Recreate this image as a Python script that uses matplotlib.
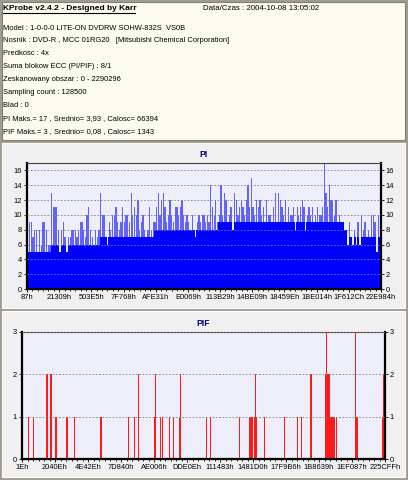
import numpy as np
import matplotlib.pyplot as plt
from matplotlib.patches import Rectangle
from matplotlib.ticker import FixedLocator

W, H = 408, 480

# header texts
header_title = "KProbe v2.4.2 - Designed by Karr"
header_date = "Data/Czas : 2004-10-08 13:05:02"
header_lines = [
    "Model : 1-0-0-0 LITE-ON DVDRW SOHW-832S  VS0B",
    "Nosnik : DVD-R , MCC 01RG20   [Mitsubishi Chemical Corporation]",
    "Predkosc : 4x",
    "Suma blokow ECC (PI/PIF) : 8/1",
    "Zeskanowany obszar : 0 - 2290296",
    "Sampling count : 128500",
    "Blad : 0",
    "PI Maks.= 17 , Srednio= 3,93 , Calosc= 66394",
    "PIF Maks.= 3 , Srednio= 0,08 , Calosc= 1343",
]

pi_xlabels = ["87h", "21309h", "503E5h", "7F768h", "AFE31h", "E0069h",
              "113B29h", "14BE09h", "18459Eh", "1BE014h", "1F612Ch", "22E984h"]
pif_xlabels = ["1Eh", "2040Eh", "4E42Eh", "7D840h", "AE006h", "DDE0Eh",
               "111483h", "1481D0h", "17F9B6h", "1B8639h", "1EF087h", "225CFFh"]

# PI peaks, read segment by segment along the disc
pi_segments = [
    [6, 9, 9, 7, 8, 8, 5, 8, 6, 9, 9, 8, 6, 6],
    [13, 11, 11, 11, 8, 5, 8, 9, 7, 5],
    [7, 7, 8, 8, 8, 7, 8, 9, 9, 8, 7, 10, 11, 8, 7, 6, 8, 7, 8],
    [13, 10, 10, 7, 6, 9, 8, 10, 10, 11, 9, 8, 9, 11],
    [9, 10, 10, 9, 13, 10, 11, 10, 12, 8, 9, 10, 8, 7, 8, 11, 8, 9],
    [9, 11, 13, 10, 12, 13, 11, 9, 10, 12, 10, 9, 11, 11, 10, 11, 12, 10, 9, 10],
    [9, 8, 10, 8, 7, 9, 10, 9, 10, 10, 9, 10, 9, 14, 11, 10, 12, 9],
    [10, 14, 10, 13, 12, 9, 10, 11, 8, 13, 12, 10, 11, 12, 11, 10, 12, 14, 11, 15, 11],
    [10, 12, 11, 12, 10, 11, 9, 12, 10, 10, 9, 11, 13, 9, 13, 12, 11, 10, 12, 9, 11, 10],
    [10, 11, 8, 11, 10, 11, 12, 11, 8, 10, 11, 10, 11, 9, 10, 11, 10, 10, 11],
    [17, 13, 11, 14, 12, 12, 10, 12, 9, 10, 9, 9, 8, 8],
    [6, 9, 7, 6, 8, 6, 9, 6, 10, 8, 9, 7, 8, 7, 10, 10, 9, 5, 10, 12],
]
# dense (dark) PI level in each segment
pi_base_levels = [5, 6, 6, 7, 7, 8, 8, 9, 9, 9, 9, 7]

# PIF: sample index and value of non-zero samples
pif_count = 363
pif_idx = [6, 11, 24, 25, 28, 29, 33, 34, 44, 45, 52, 78, 79, 106, 112, 116,
           132, 133, 138, 140, 147, 151, 157, 158, 184, 188, 217, 227, 228,
           229, 230, 232, 233, 234, 242, 262, 275, 279, 288, 289, 303, 304,
           305, 306, 307, 308, 309, 310, 311, 312, 314, 333, 334, 335, 360,
           361, 362]
pif_val = [1, 1, 2, 2, 2, 2, 1, 1, 1, 1, 1, 1, 1, 1, 1, 2,
           1, 2, 1, 1, 1, 1, 1, 2, 1, 1, 1, 1, 1,
           1, 1, 1, 2, 1, 1, 1, 1, 1, 2, 2, 2, 3,
           2, 2, 2, 1, 1, 1, 1, 1, 1, 3, 1, 1, 1,
           2, 2]

pi_peak = np.concatenate([np.array(s) for s in pi_segments])
pi_base = np.repeat(pi_base_levels, [len(s) for s in pi_segments])
pi_base = np.minimum(pi_base, pi_peak)
pif = np.zeros(pif_count)
pif[pif_idx] = pif_val

plt.rcParams['font.family'] = ['Liberation Sans', 'DejaVu Sans']

fig = plt.figure(figsize=(W / 100, H / 100), dpi=100)
fig.patch.set_facecolor('#a39a91')


def px_rect(x0, y0, x1, y1, **kw):
    fig.patches.append(Rectangle((x0 / W, 1 - y1 / H), (x1 - x0) / W, (y1 - y0) / H,
                                 transform=fig.transFigure, zorder=-5, **kw))


def px_text(x, y, s, **kw):
    fig.text(x / W, 1 - y / H, s, va='center', **kw)


# panels
px_rect(2, 2, 405, 140, facecolor='#fbfbef', edgecolor='#7f7f7f', lw=0.8)
px_rect(2, 143, 405, 308, facecolor='#f0f0f0', edgecolor='#ffffff', lw=0.8)
px_rect(2, 311, 405, 477, facecolor='#f0f0f0', edgecolor='#ffffff', lw=0.8)

px_text(3, 8, header_title, fontsize=6.0, fontweight='bold', color='black')
fig.lines.append(plt.Line2D([3 / W, 135 / W], [1 - 12.5 / H, 1 - 12.5 / H],
                            transform=fig.transFigure, color='black', lw=0.8))
px_text(203, 8, header_date, fontsize=5.7)
for i, line in enumerate(header_lines):
    px_text(3, 28 + i * 12.9, line, fontsize=5.4)


def style_axes(ax, xlabels, n, yticks):
    ax.set_zorder(2)
    ax.set_facecolor('#eeeefb')
    ax.set_xlim(-0.5, n - 0.5)
    major = np.linspace(-0.5, n - 0.5, len(xlabels))
    ax.set_xticks(major)
    ax.set_xticklabels(xlabels)
    ax.xaxis.set_minor_locator(FixedLocator(np.linspace(-0.5, n - 0.5, (len(xlabels) - 1) * 6 + 1)))
    ax.set_yticks(yticks)
    ax.tick_params(axis='both', which='both', direction='out', labelsize=5.4,
                   length=2, width=0.6, pad=1.5, right=True, labelright=True)
    ax.tick_params(axis='x', which='minor', length=1.5)
    ax.grid(axis='y', color='#808080', linestyle=(0, (2, 2)), lw=0.6)
    ax.set_axisbelow(False)
    for side in ['left', 'right', 'bottom']:
        ax.spines[side].set_linewidth(1.6)
        ax.spines[side].set_color('black')
    ax.spines['top'].set_linewidth(0.8)
    ax.spines['top'].set_color('#404040')


# PI chart
ax1 = fig.add_axes([27 / W, 1 - 289 / H, 354 / W, 126 / H])
x1 = np.arange(len(pi_peak))
ax1.bar(x1, pi_peak, width=0.75, color='#6262ff', linewidth=0)
ax1.bar(x1, pi_base, width=1.0, color='#0000ff', linewidth=0)
ax1.set_ylim(0, 17)
style_axes(ax1, pi_xlabels, len(pi_peak), range(0, 17, 2))
ax1.set_title("PI", fontsize=6.2, fontweight='bold', color='#000080', pad=4)

# PIF chart
ax2 = fig.add_axes([22 / W, 1 - 459 / H, 363 / W, 127 / H])
x2 = np.arange(pif_count)
ax2.bar(x2, pif, width=1.0, color='#ff1a1a', linewidth=0)
ax2.set_ylim(0, 3)
style_axes(ax2, pif_xlabels, pif_count, [0, 1, 2, 3])
ax2.set_title("PIF", fontsize=6.2, fontweight='bold', color='#000080', pad=4)

fig.savefig("out.png", dpi=100, facecolor=fig.get_facecolor())
